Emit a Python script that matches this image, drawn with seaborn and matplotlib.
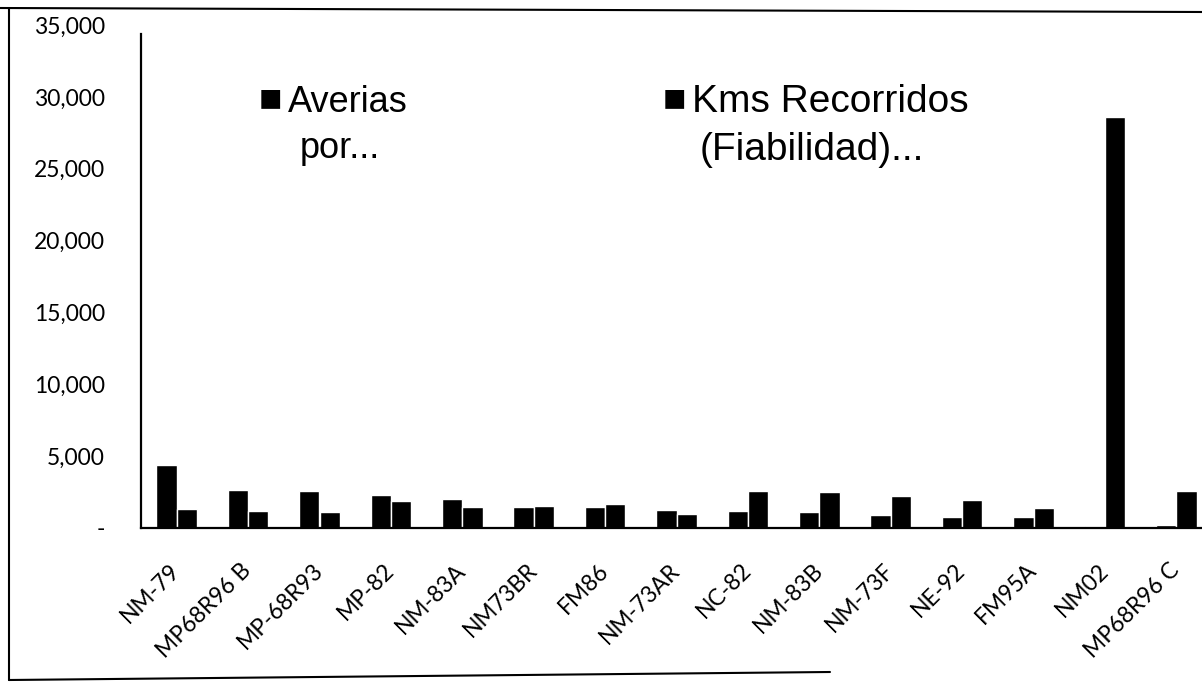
import pandas as pd
import matplotlib
matplotlib.use("Agg")
import matplotlib.pyplot as plt
from matplotlib.lines import Line2D
from matplotlib.ticker import FuncFormatter
import seaborn as sns

# Data
categories = ["NM-79", "MP68R96 B", "MP-68R93", "MP-82", "NM-83A", "NM73BR", "FM86",
              "NM-73AR", "NC-82", "NM-83B", "NM-73F", "NE-92", "FM95A", "NM02", "MP68R96 C"]
averias = [4350, 2650, 2550, 2300, 2000, 1450, 1450, 1250, 1200, 1100, 900, 800, 750, 150, 200]
kms = [1300, 1150, 1100, 1900, 1450, 1550, 1700, 1000, 2600, 2500, 2200, 1950, 1400, 28600, 2600]
series = ["Averias por...", "Kms Recorridos (Fiabilidad)..."]
yticks = [0, 5000, 10000, 15000, 20000, 25000, 30000, 35000]

df = pd.DataFrame({
    "categoria": categories * 2,
    "valor": averias + kms,
    "serie": [series[0]] * len(categories) + [series[1]] * len(categories),
})

sns.set_style("white")
plt.rcParams["text.color"] = "black"

fig = plt.figure(figsize=(12.02, 6.92), dpi=100)
ax = fig.add_axes([141 / 1202, 164 / 692, 1071 / 1202, 503 / 692])

sns.barplot(data=df, x="categoria", y="valor", hue="serie", palette=["black", "black"],
            saturation=1, width=0.57, legend=False, ax=ax)

ax.set_xlim(-0.5, len(categories) - 0.5)
ax.set_ylim(0, 35000)
ax.set_yticks(yticks)
ax.yaxis.set_major_formatter(FuncFormatter(lambda v, p: "-" if v == 0 else f"{int(v):,}"))
ax.set_xlabel("")
ax.set_ylabel("")

for s in ["top", "right"]:
    ax.spines[s].set_visible(False)
for s in ["left", "bottom"]:
    ax.spines[s].set_color("black")
    ax.spines[s].set_linewidth(1.6)
ax.spines["left"].set_bounds(0, 34400)

ax.tick_params(axis="y", length=0, pad=26, labelsize=16.5, labelcolor="black")
ax.tick_params(axis="x", length=0, pad=28, labelsize=16.5, labelcolor="black")
for lbl in ax.get_yticklabels():
    lbl.set_family("Lato")
for lbl in ax.get_xticklabels():
    lbl.set_family("Lato")
    lbl.set_rotation(45)
    lbl.set_ha("right")
    lbl.set_va("center")
    lbl.set_rotation_mode("anchor")

# legend drawn as text, like the Excel legend in the scan
leg_font = ["Liberation Sans", "DejaVu Sans"]
fig.text(259 / 1202, 1 - 100 / 692, "\u25a0", fontsize=28, family=leg_font, va="center", ha="left")
fig.text(288 / 1202, 1 - 102 / 692, "Averias", fontsize=26, family=leg_font, va="center", ha="left")
fig.text(300 / 1202, 1 - 148 / 692, "por...", fontsize=26, family=leg_font, va="center", ha="left")
fig.text(663 / 1202, 1 - 100 / 692, "\u25a0", fontsize=28, family=leg_font, va="center", ha="left")
fig.text(692 / 1202, 1 - 102 / 692, "Kms Recorridos", fontsize=28, family=leg_font, va="center", ha="left")
fig.text(700 / 1202, 1 - 150 / 692, "(Fiabilidad)...", fontsize=28, family=leg_font, va="center", ha="left")

# scan border
fig.add_artist(Line2D([0, 1], [1 - 8 / 692, 1 - 12 / 692], color="black", lw=1.5))
fig.add_artist(Line2D([9 / 1202, 9 / 1202], [1 - 8 / 692, 1 - 680 / 692], color="black", lw=1.5))
fig.add_artist(Line2D([9 / 1202, 830 / 1202], [1 - 680 / 692, 1 - 672 / 692], color="black", lw=1.5))

plt.savefig("out.png", dpi=100)
